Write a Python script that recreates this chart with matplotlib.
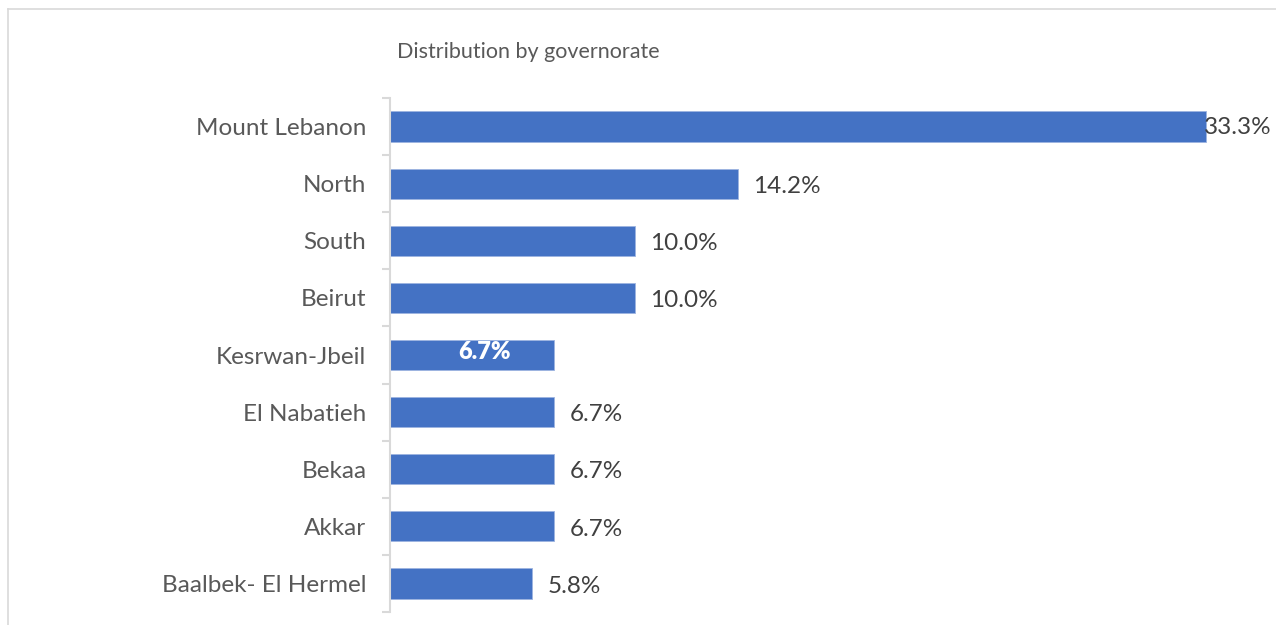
import matplotlib
matplotlib.use("Agg")
import matplotlib.pyplot as plt
from matplotlib.lines import Line2D
import numpy as np

categories = ["Mount Lebanon", "North", "South", "Beirut", "Kesrwan-Jbeil",
              "El Nabatieh", "Bekaa", "Akkar", "Baalbek- El Hermel"]
values = [33.3, 14.2, 10.0, 10.0, 6.7, 6.7, 6.7, 6.7, 5.8]
labels = ["33.3%", "14.2%", "10.0%", "10.0%", "6.7%", "6.7%", "6.7%", "6.7%", "5.8%"]
title = "Distribution by governorate"

plt.rcParams['font.family'] = ['Lato', 'DejaVu Sans']

W, H = 1276, 625
fig = plt.figure(figsize=(W / 100, H / 100), dpi=100)
ax = fig.add_axes([390 / W, 1 - 612 / H, 858 / W, (612 - 98) / H])

n = len(categories)
y = np.arange(n)
blue = "#4472C4"
ax.barh(y, values, height=0.53, color=blue, edgecolor="#9DB4E0", linewidth=0.6)
ax.set_ylim(n - 0.5, -0.5)
ax.set_xlim(0, 35)

ax.set_yticks(y)
ax.set_yticklabels(categories, fontsize=17.5, color="#595959")
ax.tick_params(axis="y", which="major", length=0, pad=17)
ax.set_yticks(np.arange(n + 1) - 0.5, minor=True)
ax.tick_params(axis="y", which="minor", length=6, color="#D9D9D9", width=1.5)
ax.set_xticks([])
for s in ["top", "right", "bottom"]:
    ax.spines[s].set_visible(False)
ax.spines["left"].set_color("#D9D9D9")
ax.spines["left"].set_linewidth(1.5)

for i, (v, lab) in enumerate(zip(values, labels)):
    if categories[i] == "Kesrwan-Jbeil":
        ax.text(v / 2 + 0.5, i - 0.06, lab, ha="center", va="center", fontsize=17,
                color="white", fontweight="heavy")
    elif i == 0:
        ax.annotate(lab, xy=(v, i), xytext=(-1.5, -1), textcoords="offset points",
                    ha="left", va="center", fontsize=17.5, color="#404040")
    else:
        ax.annotate(lab, xy=(v, i), xytext=(11, -2), textcoords="offset points",
                    ha="left", va="center", fontsize=17.5, color="#404040")

fig.text(397 / W, 1 - 52 / H, title, ha="left", va="center", fontsize=15.5, color="#595959")

fig.add_artist(Line2D([8 / W, 8 / W], [0, 1 - 9 / H], transform=fig.transFigure,
                      color="#D9D9D9", linewidth=1.2))
fig.add_artist(Line2D([8 / W, 1], [1 - 9 / H, 1 - 9 / H], transform=fig.transFigure,
                      color="#D9D9D9", linewidth=1.2))

fig.savefig("out.png", dpi=100)
